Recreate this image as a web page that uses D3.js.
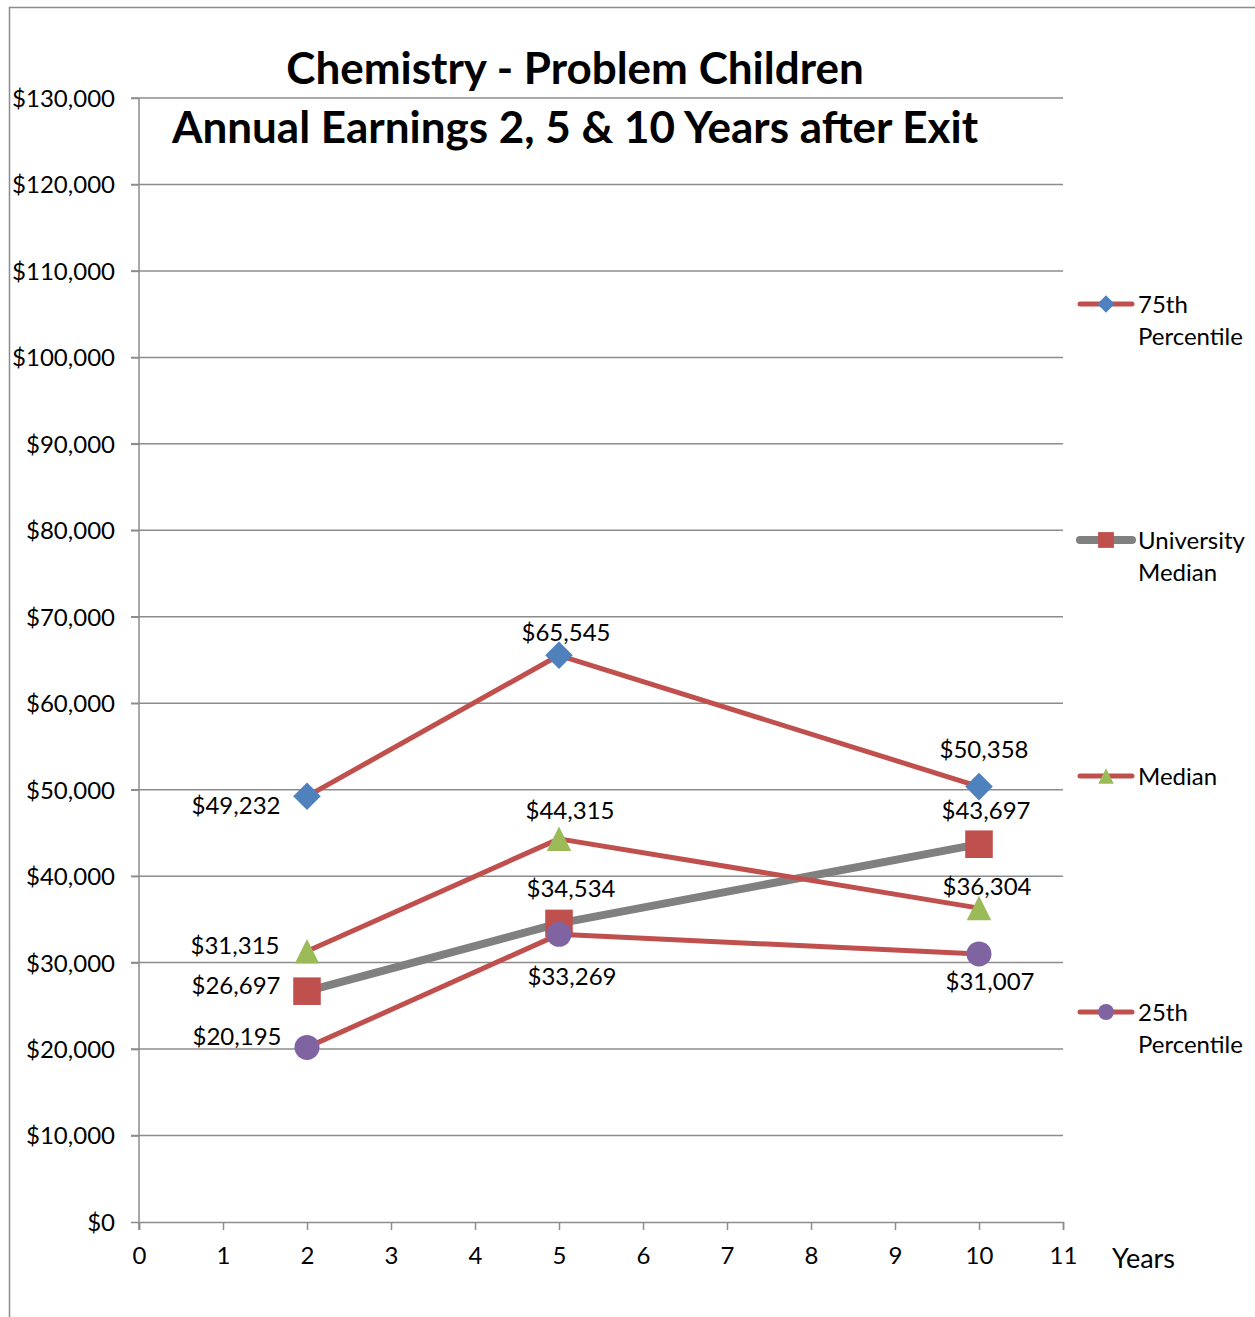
<!DOCTYPE html>
<html>
<head>
<meta charset="utf-8">
<script src="https://cdn.jsdelivr.net/npm/d3@7"></script>
<style>
  body { margin: 0; background: #fff; }
  text { font-family: Lato, "Open Sans", sans-serif; fill: #000; }
</style>
</head>
<body>
<div id="chart"></div>
<script>
// data
const years = [2, 5, 10];
const p75 = [49232, 65545, 50358];
const uniMedian = [26697, 34534, 43697];
const median = [31315, 44315, 36304];
const p25 = [20195, 33269, 31007];
const seriesNames = ["75th Percentile", "University Median", "Median", "25th Percentile"];
const xTicks = d3.range(0, 12);
const yTicks = d3.range(0, 130001, 10000);

const W = 1255, H = 1317;
const margin = {left: 139, top: 98, right: W - 1063, bottom: H - 1222};
const fs = 24;

const svg = d3.select("#chart").append("svg")
    .attr("width", W).attr("height", H);

// outer frame (only left and top edges are visible)
svg.append("path")
    .attr("d", "M9.5," + H + "V7.5H" + W)
    .attr("fill", "none").attr("stroke", "#8c8c8c").attr("stroke-width", 1.5);

const x = d3.scaleLinear().domain([0, 11]).range([margin.left, W - margin.right]);
const y = d3.scaleLinear().domain([0, 130000]).range([H - margin.bottom, margin.top]);

// gridlines
svg.append("g").selectAll("line").data(yTicks.slice(1)).enter().append("line")
    .attr("x1", margin.left - 8).attr("x2", x(11))
    .attr("y1", d => y(d)).attr("y2", d => y(d))
    .attr("stroke", "#8c8c8c").attr("stroke-width", 1.5);

// y axis
const yAxis = svg.append("g")
    .attr("transform", "translate(" + margin.left + ",0)")
    .call(d3.axisLeft(y).tickValues(yTicks).tickSize(8).tickPadding(16)
        .tickFormat(d => "$" + d3.format(",")(d)));
// x axis
const xAxis = svg.append("g")
    .attr("transform", "translate(0," + y(0) + ")")
    .call(d3.axisBottom(x).tickValues(xTicks).tickSize(8).tickPadding(17).tickFormat(d3.format("d")));

[yAxis, xAxis].forEach(a => {
    a.select(".domain").attr("stroke", "#8c8c8c").attr("stroke-width", 1.5);
    a.selectAll(".tick line").attr("stroke", "#8c8c8c").attr("stroke-width", 1.5);
    a.selectAll(".tick text").attr("font-size", fs).attr("font-family", "Lato, sans-serif").attr("fill", "#000");
});
yAxis.selectAll(".tick text").attr("dy", "0.35em");
yAxis.select(".domain").attr("d", "M0," + y(130000) + "V" + (y(0) + 8));

svg.append("text").attr("x", 1112).attr("y", 1268)
    .attr("font-size", 27).text("Years");

// title
svg.append("text").attr("x", 575).attr("y", 84).attr("text-anchor", "middle")
    .attr("font-size", 44).attr("font-weight", "bold").text("Chemistry - Problem Children");
svg.append("text").attr("x", 575).attr("y", 143).attr("text-anchor", "middle")
    .attr("font-size", 44).attr("font-weight", "bold").text("Annual Earnings 2, 5 & 10 Years after Exit");

const red = "#C0504D";
const diamond = {draw: (ctx, size) => { const r = Math.sqrt(size) / Math.SQRT2;
    ctx.moveTo(0, -r); ctx.lineTo(r, 0); ctx.lineTo(0, r); ctx.lineTo(-r, 0); ctx.closePath(); }};
const triangle = {draw: (ctx, size) => { const h = Math.sqrt(size);
    ctx.moveTo(0, -h / 2); ctx.lineTo(h / 2, h / 2); ctx.lineTo(-h / 2, h / 2); ctx.closePath(); }};

// label offsets (dx, dy) from the point, per series
const series = [
    {name: seriesNames[0], vals: p75, line: red, lw: 5, marker: diamond, mc: "#4F81BD", size: 380, ls: 150,
     off: [[-71, 9], [7, -23], [5, -37]]},
    {name: seriesNames[1], vals: uniMedian, line: "#808080", lw: 8, marker: d3.symbolSquare, mc: "#C0504D", size: 760, ls: 250,
     off: [[-71, -6], [12, -35], [7, -34]]},
    {name: seriesNames[2], vals: median, line: red, lw: 5, marker: triangle, mc: "#9BBB59", size: 600, ls: 240,
     off: [[-72, -6], [11, -28], [8, -22]]},
    {name: seriesNames[3], vals: p25, line: red, lw: 5, marker: d3.symbolCircle, mc: "#8064A2", size: 490, ls: 200,
     off: [[-70, -11], [13, 42], [11, 28]]}
];

const line = d3.line().x(d => x(d[0])).y(d => y(d[1]));

series.forEach(s => {
    svg.append("path")
        .datum(years.map((yr, i) => [yr, s.vals[i]]))
        .attr("d", line)
        .attr("fill", "none").attr("stroke", s.line).attr("stroke-width", s.lw)
        .attr("stroke-linejoin", "round");
});
series.forEach(s => {
    svg.append("g").selectAll("path").data(years.map((yr, i) => [yr, s.vals[i]])).enter()
        .append("path")
        .attr("d", d3.symbol(s.marker, s.size))
        .attr("transform", d => "translate(" + x(d[0]) + "," + y(d[1]) + ")")
        .attr("fill", s.mc);
});

// data labels
series.forEach(s => {
    svg.append("g").selectAll("text").data(years.map((yr, i) => ({yr: yr, v: s.vals[i], o: s.off[i]}))).enter()
        .append("text")
        .attr("font-size", fs)
        .attr("text-anchor", "middle")
        .attr("x", d => x(d.yr) + d.o[0])
        .attr("y", d => y(d.v) + d.o[1])
        .attr("dy", "0.35em")
        .text(d => "$" + d3.format(",")(d.v));
});

// legend
const legY = [304, 540, 776, 1012];
series.forEach((s, i) => {
    const g = svg.append("g").attr("transform", "translate(0," + legY[i] + ")");
    g.append("line").attr("x1", 1080).attr("x2", 1132).attr("y1", 0).attr("y2", 0)
        .attr("stroke", s.line).attr("stroke-width", s.lw).attr("stroke-linecap", "round");
    g.append("path").attr("d", d3.symbol(s.marker, s.ls))
        .attr("transform", "translate(1106,0)").attr("fill", s.mc);
    const words = s.name.split(" ");
    if (words.length > 1) {
        g.append("text").attr("x", 1138).attr("y", 9).attr("font-size", fs).text(words.slice(0, -1).join(" "));
        g.append("text").attr("x", 1138).attr("y", 41).attr("font-size", fs).text(words[words.length - 1]);
    } else {
        g.append("text").attr("x", 1138).attr("y", 9).attr("font-size", fs).text(s.name);
    }
});
</script>
</body>
</html>
